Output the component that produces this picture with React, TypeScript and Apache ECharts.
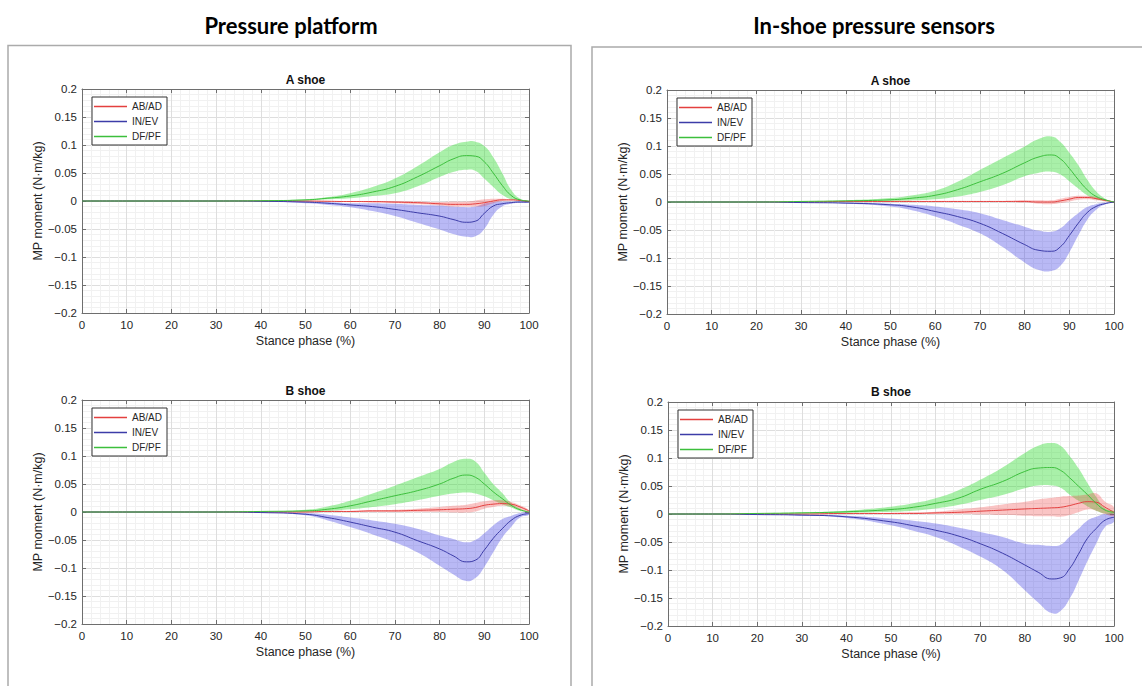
import React, { useEffect, useRef } from "react";
import * as echarts from "echarts";

// ---------- data ----------
const STANCE = [0, 10, 20, 30, 40, 50, 55, 60, 65, 70, 75, 80, 83, 86, 88, 90, 92, 94, 96, 98, 100];
const X_MIN = 0, X_MAX = 100, X_STEP = 10;
const Y_MIN = -0.2, Y_MAX = 0.2, Y_STEP = 0.05;
const SERIES_NAMES = ["AB/AD", "IN/EV", "DF/PF"];
const COLUMN_TITLES = ["Pressure platform", "In-shoe pressure sensors"];
const SHOE_TITLES = ["A shoe", "B shoe"];
const X_NAME = "Stance phase (%)";
const Y_NAME = "MP moment (N\u00b7m/kg)";

// A shoe, pressure platform
const A_PLAT_ABAD_MEAN = [0, 0, 0, 0, 0, 0, -0.0005, -0.001, -0.001, -0.002, -0.003, -0.005, -0.006, -0.006, -0.005, -0.003, 0, 0.002, 0.002, 0.001, -0.001];
const A_PLAT_ABAD_LO = [0, 0, 0, 0, 0, -0.001, -0.001, -0.002, -0.003, -0.004, -0.006, -0.008, -0.01, -0.01, -0.01, -0.009, -0.004, 0, 0.001, 0, -0.002];
const A_PLAT_ABAD_HI = [0, 0, 0, 0, 0, 0, 0, 0, 0, 0, -0.001, -0.002, -0.001, -0.001, 0.001, 0.003, 0.004, 0.004, 0.003, 0.002, 0];
const A_PLAT_INEV_MEAN = [0, 0, 0, 0, -0.0005, -0.002, -0.004, -0.007, -0.01, -0.015, -0.021, -0.027, -0.033, -0.038, -0.036, -0.022, -0.009, -0.005, -0.003, -0.002, -0.002];
const A_PLAT_INEV_LO = [0, 0, 0, 0, -0.001, -0.004, -0.007, -0.011, -0.018, -0.027, -0.039, -0.051, -0.059, -0.064, -0.063, -0.05, -0.025, -0.01, -0.005, -0.003, -0.003];
const A_PLAT_INEV_HI = [0, 0, 0, 0, 0, -0.001, -0.002, -0.004, -0.004, -0.005, -0.007, -0.008, -0.01, -0.011, -0.01, -0.005, -0.002, -0.001, -0.001, 0, 0];
const A_PLAT_DFPF_MEAN = [0, 0, 0, 0, 0.0005, 0.002, 0.005, 0.009, 0.016, 0.026, 0.043, 0.063, 0.075, 0.081, 0.08, 0.07, 0.05, 0.028, 0.01, 0.002, 0];
const A_PLAT_DFPF_LO = [0, 0, 0, 0, 0, 0.001, 0.003, 0.005, 0.009, 0.014, 0.026, 0.043, 0.052, 0.056, 0.054, 0.04, 0.025, 0.011, 0.003, 0, 0];
const A_PLAT_DFPF_HI = [0, 0, 0, 0, 0.001, 0.003, 0.007, 0.014, 0.025, 0.04, 0.062, 0.087, 0.1, 0.106, 0.106, 0.098, 0.078, 0.05, 0.02, 0.004, 0];

// A shoe, in-shoe sensors
const A_SHOE_ABAD_MEAN = [0, 0, 0, 0, 0.001, 0.001, 0.001, 0.001, 0.001, 0.001, 0.001, 0.001, 0, 0, 0.002, 0.005, 0.008, 0.008, 0.006, 0.003, 0];
const A_SHOE_ABAD_LO = [0, 0, 0, 0, 0, 0, 0, 0, 0, 0, 0, -0.001, -0.003, -0.004, -0.002, 0.001, 0.004, 0.005, 0.003, 0.001, 0];
const A_SHOE_ABAD_HI = [0, 0, 0, 0, 0.001, 0.002, 0.002, 0.002, 0.002, 0.002, 0.002, 0.003, 0.003, 0.003, 0.006, 0.009, 0.011, 0.011, 0.009, 0.005, 0];
const A_SHOE_INEV_MEAN = [0, 0, 0, -0.001, -0.002, -0.005, -0.009, -0.017, -0.026, -0.038, -0.056, -0.076, -0.086, -0.088, -0.08, -0.06, -0.038, -0.019, -0.008, -0.003, 0];
const A_SHOE_INEV_LO = [0, 0, 0, -0.001, -0.003, -0.008, -0.015, -0.026, -0.04, -0.056, -0.08, -0.108, -0.121, -0.123, -0.114, -0.09, -0.06, -0.032, -0.014, -0.004, 0];
const A_SHOE_INEV_HI = [0, 0, 0, -0.0005, -0.001, -0.003, -0.005, -0.008, -0.013, -0.02, -0.032, -0.044, -0.051, -0.053, -0.047, -0.033, -0.02, -0.009, -0.004, -0.001, 0];
const A_SHOE_DFPF_MEAN = [0, 0, 0, 0.001, 0.002, 0.004, 0.007, 0.012, 0.022, 0.036, 0.051, 0.07, 0.08, 0.084, 0.077, 0.06, 0.04, 0.022, 0.01, 0.004, 0];
const A_SHOE_DFPF_LO = [0, 0, 0, 0, 0.001, 0.002, 0.003, 0.005, 0.01, 0.018, 0.03, 0.046, 0.052, 0.054, 0.049, 0.037, 0.024, 0.012, 0.005, 0.002, 0];
const A_SHOE_DFPF_HI = [0, 0, 0, 0.001, 0.003, 0.007, 0.012, 0.02, 0.036, 0.057, 0.078, 0.099, 0.112, 0.117, 0.107, 0.088, 0.066, 0.04, 0.019, 0.006, 0];

// B shoe, pressure platform
const B_PLAT_ABAD_MEAN = [0, 0, 0, 0, 0, 0, 0.001, 0.001, 0.002, 0.002, 0.003, 0.004, 0.005, 0.006, 0.008, 0.012, 0.014, 0.015, 0.014, 0.009, 0.002];
const B_PLAT_ABAD_LO = [0, 0, 0, 0, 0, 0, 0, 0, 0, 0, 0, 0, -0.001, -0.001, 0.001, 0.006, 0.009, 0.011, 0.01, 0.005, -0.002];
const B_PLAT_ABAD_HI = [0, 0, 0, 0, 0, 0.001, 0.002, 0.002, 0.003, 0.004, 0.006, 0.009, 0.011, 0.013, 0.016, 0.019, 0.021, 0.021, 0.018, 0.012, 0.003];
const B_PLAT_INEV_MEAN = [0, 0, 0, 0, -0.001, -0.004, -0.01, -0.018, -0.027, -0.036, -0.051, -0.066, -0.078, -0.089, -0.086, -0.068, -0.047, -0.03, -0.015, -0.006, -0.003];
const B_PLAT_INEV_LO = [0, 0, 0, 0, -0.001, -0.006, -0.015, -0.027, -0.04, -0.054, -0.072, -0.096, -0.111, -0.123, -0.118, -0.098, -0.072, -0.046, -0.027, -0.01, -0.005];
const B_PLAT_INEV_HI = [0, 0, 0, 0, 0, -0.002, -0.005, -0.01, -0.015, -0.021, -0.03, -0.042, -0.048, -0.054, -0.05, -0.038, -0.024, -0.013, -0.007, -0.002, 0];
const B_PLAT_DFPF_MEAN = [0, 0, 0, 0, 0.001, 0.002, 0.005, 0.011, 0.02, 0.029, 0.038, 0.05, 0.06, 0.066, 0.062, 0.05, 0.036, 0.024, 0.012, 0.004, 0];
const B_PLAT_DFPF_LO = [0, 0, 0, 0, 0, 0.001, 0.002, 0.005, 0.009, 0.014, 0.021, 0.029, 0.033, 0.035, 0.033, 0.028, 0.021, 0.014, 0.008, 0.002, 0];
const B_PLAT_DFPF_HI = [0, 0, 0, 0, 0.001, 0.004, 0.01, 0.02, 0.033, 0.047, 0.062, 0.077, 0.089, 0.095, 0.09, 0.07, 0.05, 0.034, 0.016, 0.006, 0];

// B shoe, in-shoe sensors
const B_SHOE_ABAD_MEAN = [0, 0, 0, 0, 0.001, 0.001, 0.001, 0.002, 0.003, 0.005, 0.007, 0.009, 0.01, 0.011, 0.012, 0.015, 0.019, 0.022, 0.021, 0.012, 0.003];
const B_SHOE_ABAD_LO = [0, 0, 0, 0, 0, 0, 0, 0, 0, -0.001, -0.002, -0.003, -0.004, -0.004, -0.005, -0.002, 0.003, 0.008, 0.006, 0, -0.003];
const B_SHOE_ABAD_HI = [0, 0, 0, 0, 0.001, 0.002, 0.003, 0.004, 0.008, 0.012, 0.017, 0.022, 0.026, 0.029, 0.031, 0.032, 0.033, 0.035, 0.037, 0.022, 0.012];
const B_SHOE_INEV_MEAN = [0, 0, -0.001, -0.002, -0.005, -0.014, -0.021, -0.029, -0.039, -0.053, -0.07, -0.091, -0.104, -0.116, -0.114, -0.098, -0.072, -0.044, -0.026, -0.011, -0.006];
const B_SHOE_INEV_LO = [0, 0, -0.001, -0.003, -0.007, -0.02, -0.03, -0.041, -0.057, -0.076, -0.1, -0.136, -0.158, -0.177, -0.173, -0.152, -0.12, -0.085, -0.053, -0.023, -0.014];
const B_SHOE_INEV_HI = [0, 0, 0, -0.001, -0.003, -0.008, -0.012, -0.017, -0.024, -0.032, -0.041, -0.053, -0.055, -0.057, -0.055, -0.041, -0.027, -0.012, -0.005, 0, 0];
const B_SHOE_DFPF_MEAN = [0, 0, 0.001, 0.002, 0.004, 0.008, 0.012, 0.019, 0.028, 0.044, 0.058, 0.076, 0.082, 0.083, 0.078, 0.065, 0.05, 0.035, 0.019, 0.007, 0.003];
const B_SHOE_DFPF_LO = [0, 0, 0, 0.001, 0.002, 0.004, 0.006, 0.01, 0.016, 0.025, 0.034, 0.046, 0.051, 0.051, 0.047, 0.035, 0.024, 0.014, 0.006, 0.001, 0];
const B_SHOE_DFPF_HI = [0, 0, 0.001, 0.003, 0.006, 0.013, 0.019, 0.028, 0.042, 0.061, 0.083, 0.109, 0.122, 0.127, 0.122, 0.104, 0.082, 0.056, 0.031, 0.01, 0.005];

// ---------- styling ----------
const FONT = "'Liberation Sans', Arial, sans-serif";
const AXIS_COLOR = "#6e6e6e";
const TEXT_COLOR = "#262626";
const SMOOTH = 0.5;
const LINE_COLORS: Record<string, string> = { "AB/AD": "#e4403f", "IN/EV": "#3c3ca8", "DF/PF": "#3cbf3c" };
const BAND_COLORS: Record<string, string> = {
  "AB/AD": "rgba(240,60,60,0.30)",
  "IN/EV": "rgba(70,70,230,0.38)",
  "DF/PF": "rgba(50,220,50,0.42)",
};

type Stat = { mean: number[]; lo: number[]; hi: number[] };
type Panel = {
  grid: { left: number; top: number; width: number; height: number };
  legend: { left: number; top: number };
  titleY: number;
  title: string;
  stats: Stat[]; // order: AB/AD, IN/EV, DF/PF
};

const PANELS: Panel[] = [
  {
    grid: { left: 82, top: 89, width: 447, height: 224 },
    legend: { left: 92, top: 97 },
    titleY: 80,
    title: SHOE_TITLES[0],
    stats: [
      { mean: A_PLAT_ABAD_MEAN, lo: A_PLAT_ABAD_LO, hi: A_PLAT_ABAD_HI },
      { mean: A_PLAT_INEV_MEAN, lo: A_PLAT_INEV_LO, hi: A_PLAT_INEV_HI },
      { mean: A_PLAT_DFPF_MEAN, lo: A_PLAT_DFPF_LO, hi: A_PLAT_DFPF_HI },
    ],
  },
  {
    grid: { left: 667, top: 90, width: 447, height: 224 },
    legend: { left: 677, top: 98 },
    titleY: 81,
    title: SHOE_TITLES[0],
    stats: [
      { mean: A_SHOE_ABAD_MEAN, lo: A_SHOE_ABAD_LO, hi: A_SHOE_ABAD_HI },
      { mean: A_SHOE_INEV_MEAN, lo: A_SHOE_INEV_LO, hi: A_SHOE_INEV_HI },
      { mean: A_SHOE_DFPF_MEAN, lo: A_SHOE_DFPF_LO, hi: A_SHOE_DFPF_HI },
    ],
  },
  {
    grid: { left: 82, top: 400, width: 447, height: 224 },
    legend: { left: 92, top: 408 },
    titleY: 391,
    title: SHOE_TITLES[1],
    stats: [
      { mean: B_PLAT_ABAD_MEAN, lo: B_PLAT_ABAD_LO, hi: B_PLAT_ABAD_HI },
      { mean: B_PLAT_INEV_MEAN, lo: B_PLAT_INEV_LO, hi: B_PLAT_INEV_HI },
      { mean: B_PLAT_DFPF_MEAN, lo: B_PLAT_DFPF_LO, hi: B_PLAT_DFPF_HI },
    ],
  },
  {
    grid: { left: 668, top: 402, width: 446, height: 224 },
    legend: { left: 678, top: 410 },
    titleY: 392,
    title: SHOE_TITLES[1],
    stats: [
      { mean: B_SHOE_ABAD_MEAN, lo: B_SHOE_ABAD_LO, hi: B_SHOE_ABAD_HI },
      { mean: B_SHOE_INEV_MEAN, lo: B_SHOE_INEV_LO, hi: B_SHOE_INEV_HI },
      { mean: B_SHOE_DFPF_MEAN, lo: B_SHOE_DFPF_LO, hi: B_SHOE_DFPF_HI },
    ],
  },
];

function yFmt(v: number) {
  const r = Math.round(v * 100) / 100;
  if (r === 0) return "0";
  return (r < 0 ? "\u2212" : "") + String(Math.abs(r));
}

function buildOption() {
  const grids = PANELS.map((p) => ({ ...p.grid, containLabel: false }));
  const tick = { show: true, inside: true, length: 4, lineStyle: { color: AXIS_COLOR, width: 1 } };
  const line = { show: true, onZero: false, lineStyle: { color: AXIS_COLOR, width: 1 } };
  const xAxes: any[] = [];
  const yAxes: any[] = [];
  PANELS.forEach((p, g) => {
    xAxes.push({
      type: "value", gridIndex: g, min: X_MIN, max: X_MAX, interval: X_STEP, position: "bottom",
      name: X_NAME, nameLocation: "middle", nameGap: 21,
      nameTextStyle: { fontFamily: FONT, fontSize: 12.5, color: TEXT_COLOR },
      axisLine: line, axisTick: tick,
      axisLabel: { fontFamily: FONT, fontSize: 11.5, color: TEXT_COLOR, margin: 6 },
      splitLine: { show: true, lineStyle: { color: "#dedede", width: 1 } },
      minorTick: { show: false, splitNumber: 5 },
      minorSplitLine: { show: true, lineStyle: { color: "#f1f1f1", width: 1 } },
    });
    yAxes.push({
      type: "value", gridIndex: g, min: Y_MIN, max: Y_MAX, interval: Y_STEP, position: "left",
      name: Y_NAME, nameLocation: "middle", nameGap: 36,
      nameTextStyle: { fontFamily: FONT, fontSize: 12.5, color: TEXT_COLOR },
      axisLine: line, axisTick: tick,
      axisLabel: { fontFamily: FONT, fontSize: 11.5, color: TEXT_COLOR, margin: 5, formatter: yFmt },
      splitLine: { show: true, lineStyle: { color: "#dedede", width: 1 } },
      minorTick: { show: false, splitNumber: 5 },
      minorSplitLine: { show: true, lineStyle: { color: "#f1f1f1", width: 1 } },
    });
  });
  PANELS.forEach((p, g) => {
    xAxes.push({
      type: "value", gridIndex: g, min: X_MIN, max: X_MAX, interval: X_STEP, position: "top",
      axisLine: line, axisTick: tick, axisLabel: { show: false }, splitLine: { show: false },
    });
    yAxes.push({
      type: "value", gridIndex: g, min: Y_MIN, max: Y_MAX, interval: Y_STEP, position: "right",
      axisLine: line, axisTick: tick, axisLabel: { show: false }, splitLine: { show: false },
    });
  });

  const series: any[] = [];
  const bandOrder = [1, 2, 0];
  PANELS.forEach((p, g) => {
    bandOrder.forEach((k) => {
      const name = SERIES_NAMES[k];
      const st = p.stats[k];
      series.push({
        type: "custom", name: name + " band", xAxisIndex: g, yAxisIndex: g,
        data: [[X_MIN, 0]], silent: true, z: 1, clip: true,
        renderItem: (_params: any, api: any) => {
          const upper = STANCE.map((x, i) => api.coord([x, st.hi[i]]));
          const lower = STANCE.map((x, i) => api.coord([x, st.lo[i]])).reverse();
          return {
            type: "polygon",
            shape: { points: upper.concat(lower), smooth: SMOOTH },
            style: { fill: BAND_COLORS[name], stroke: "none" },
          };
        },
      });
    });
    SERIES_NAMES.forEach((name, k) => {
      const st = p.stats[k];
      series.push({
        type: "line", name, xAxisIndex: g, yAxisIndex: g,
        data: STANCE.map((x, i) => [x, st.mean[i]]), symbol: "none", smooth: SMOOTH,
        lineStyle: { color: LINE_COLORS[name], width: 1 }, itemStyle: { color: LINE_COLORS[name] }, z: 3,
      });
    });
  });

  const legends = PANELS.map((p) => ({
    data: SERIES_NAMES,
    left: p.legend.left, top: p.legend.top, orient: "vertical",
    icon: "rect", itemWidth: 33, itemHeight: 1.5, itemGap: 0,
    padding: [2, 5, 1, 2],
    backgroundColor: "#ffffff", borderColor: "#333333", borderWidth: 1,
    textStyle: { fontFamily: FONT, fontSize: 10, color: TEXT_COLOR, lineHeight: 15 },
    selectedMode: false,
  }));

  const titleFont = "Lato, 'Open Sans', sans-serif";
  const graphic: any[] = [
    { type: "rect", shape: { x: 8, y: 45.5, width: 563, height: 700 }, style: { fill: "none", stroke: "#ababab", lineWidth: 1.5 }, silent: true },
    { type: "rect", shape: { x: 592, y: 47, width: 560, height: 700 }, style: { fill: "none", stroke: "#ababab", lineWidth: 1.5 }, silent: true },
    { type: "text", x: 291, y: 25, style: { text: COLUMN_TITLES[0], align: "center", verticalAlign: "middle", fontFamily: titleFont, fontWeight: "bold", fontSize: 22, fill: "#000" } },
    { type: "text", x: 874, y: 25, style: { text: COLUMN_TITLES[1], align: "center", verticalAlign: "middle", fontFamily: titleFont, fontWeight: "bold", fontSize: 22, fill: "#000" } },
  ];
  PANELS.forEach((p) => {
    graphic.push({
      type: "text", x: p.grid.left + p.grid.width / 2, y: p.titleY,
      style: { text: p.title, align: "center", verticalAlign: "middle", fontFamily: FONT, fontWeight: "bold", fontSize: 12, fill: "#111" },
    });
  });

  return {
    animation: false,
    backgroundColor: "#ffffff",
    grid: grids,
    xAxis: xAxes,
    yAxis: yAxes,
    legend: legends,
    series,
    graphic,
  };
}

export default function App() {
  const ref = useRef<HTMLDivElement>(null);
  useEffect(() => {
    if (!ref.current) return;
    const chart = echarts.init(ref.current, null, { renderer: "svg" });
    chart.setOption(buildOption() as any);
    return () => chart.dispose();
  }, []);
  return <div ref={ref} style={{ position: "absolute", left: 0, top: 0, width: 1142, height: 686 }} />;
}
